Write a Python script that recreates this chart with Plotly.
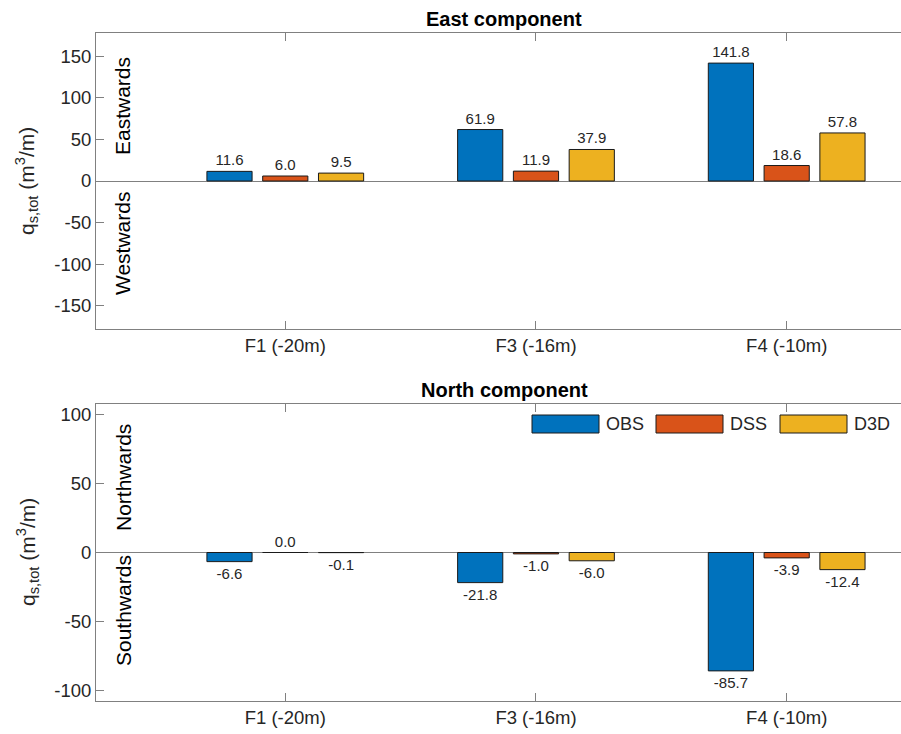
import plotly.graph_objects as go

# ---- data ----
categories = ["F1 (-20m)", "F3 (-16m)", "F4 (-10m)"]
series_names = ["OBS", "DSS", "D3D"]
series_colors = ["#0072BD", "#D95319", "#EDB120"]
east_obs = [11.6, 61.9, 141.8]
east_dss = [6.0, 11.9, 18.6]
east_d3d = [9.5, 37.9, 57.8]
north_obs = [-6.6, -21.8, -85.7]
north_dss = [0.0, -1.0, -3.9]
north_d3d = [-0.1, -6.0, -12.4]
east_ticks = [-150, -100, -50, 0, 50, 100, 150]
north_ticks = [-100, -50, 0, 50, 100]

east = [east_obs, east_dss, east_d3d]
north = [north_obs, north_dss, north_d3d]
xpos = list(range(1, len(categories) + 1))

W, H = 901, 734
ML, MR, MT, MB = 96, 0, 33, 33
PW, PH = W - ML - MR, H - MT - MB

def px(x):
    return (x - ML) / PW

def py(y):
    return (H - MB - y) / PH

FONT = "Liberation Sans, Arial, sans-serif"
TXT = "#262626"
AX = "#808080"

fig = go.Figure()
for i, name in enumerate(series_names):
    for vals, xa, ya in [(east[i], "x", "y"), (north[i], "x2", "y2")]:
        fig.add_trace(go.Bar(
            x=xpos, y=vals, name=name, xaxis=xa, yaxis=ya,
            marker=dict(color=series_colors[i], line=dict(color="#1a1a1a", width=1)),
            text=[f"{v:.1f}" for v in vals],
            textposition="outside", cliponaxis=False,
            textfont=dict(family=FONT, size=15, color=TXT),
            showlegend=False,
        ))

top_dom = [py(329), 1.0]
bot_dom = [0.0, py(404)]

xcommon = dict(
    tickmode="array", tickvals=xpos, ticktext=categories,
    range=[0.245, 3.456], showline=True, linecolor=AX, linewidth=1,
    mirror="ticks", ticks="inside", ticklen=8, tickcolor=AX,
    showgrid=False, zeroline=False,
    tickfont=dict(family=FONT, size=18.5, color=TXT),
)
ycommon = dict(
    showline=True, linecolor=AX, linewidth=1, mirror=False,
    ticks="inside", ticklen=8, tickcolor=AX, showgrid=False,
    zeroline=True, zerolinecolor=AX, zerolinewidth=1,
    tickfont=dict(family=FONT, size=18.5, color=TXT),
)

fig.update_layout(
    width=W, height=H, margin=dict(l=ML, r=MR, t=MT, b=MB),
    paper_bgcolor="white", plot_bgcolor="white",
    barmode="group", bargap=0.3325, bargroupgap=0.19,
    xaxis=dict(domain=[0, 1], anchor="y", **xcommon),
    yaxis=dict(domain=top_dom, anchor="x", range=[-178, 178], tickmode="array",
               tickvals=east_ticks, ticktext=[str(v) for v in east_ticks], **ycommon),
    xaxis2=dict(domain=[0, 1], anchor="y2", **xcommon),
    yaxis2=dict(domain=bot_dom, anchor="x2", range=[-107.5, 107.5], tickmode="array",
                tickvals=north_ticks, ticktext=[str(v) for v in north_ticks], **ycommon),
    showlegend=False,
)

ann = []
# titles
ann.append(dict(text="<b>East component</b>", x=px(504), y=py(19), xref="paper", yref="paper",
                showarrow=False, font=dict(family=FONT, size=20, color="black"),
                xanchor="center", yanchor="middle"))
ann.append(dict(text="<b>North component</b>", x=px(504), y=py(390), xref="paper", yref="paper",
                showarrow=False, font=dict(family=FONT, size=20, color="black"),
                xanchor="center", yanchor="middle"))
# y axis titles
ylab = "q<sub>s,tot</sub> (m<sup>3</sup>/m)"
for yc in (181, 552):
    ann.append(dict(text=ylab, x=px(27), y=py(yc), xref="paper", yref="paper", textangle=-90,
                    showarrow=False, font=dict(family=FONT, size=21, color=TXT),
                    xanchor="center", yanchor="middle"))
# direction labels
for t, yc in [("Eastwards", 106), ("Westwards", 244), ("Northwards", 478), ("Southwards", 611)]:
    ann.append(dict(text=t, x=px(123), y=py(yc), xref="paper", yref="paper", textangle=-90,
                    showarrow=False, font=dict(family=FONT, size=21, color="black"),
                    xanchor="center", yanchor="middle"))

# custom legend
shapes = []
leg_x = [532, 656, 780]
for i, name in enumerate(series_names):
    x0 = leg_x[i]
    shapes.append(dict(type="rect", xref="paper", yref="paper",
                       x0=px(x0), x1=px(x0 + 67), y0=py(433), y1=py(415),
                       fillcolor=series_colors[i], line=dict(color="#1a1a1a", width=1)))
    ann.append(dict(text=name, x=px(x0 + 72), y=py(424), xref="paper", yref="paper",
                    showarrow=False, font=dict(family=FONT, size=18, color=TXT),
                    xanchor="left", yanchor="middle"))

fig.update_layout(annotations=ann, shapes=shapes)
fig.write_html("out.html")
